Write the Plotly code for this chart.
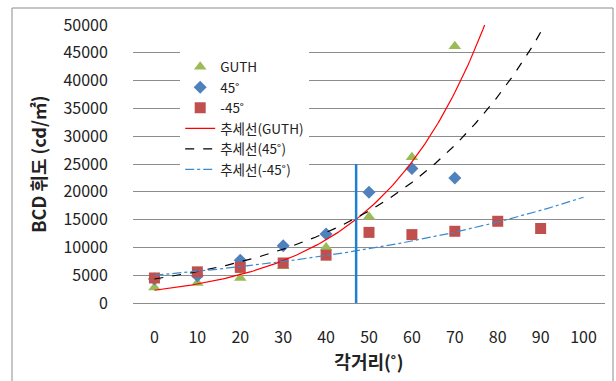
import numpy as np
import plotly.graph_objects as go

# ---- data ----
x_guth = [0, 10, 20, 30, 40, 50, 60, 70]
y_guth = [2800, 3600, 4500, 6600, 10000, 15500, 26200, 46200]

x_p45 = [0, 10, 20, 30, 40, 50, 60, 70]
y_p45 = [4300, 4900, 7700, 10300, 12400, 19900, 24200, 22500]

x_m45 = [0, 10, 20, 30, 40, 50, 60, 70, 80, 90]
y_m45 = [4500, 5600, 6400, 7200, 8600, 12700, 12300, 12900, 14700, 13400]

x_ticks = [0, 10, 20, 30, 40, 50, 60, 70, 80, 90, 100]
y_ticks = [0, 5000, 10000, 15000, 20000, 25000, 30000, 35000, 40000, 45000, 50000]

marker_x = [47, 47]
marker_y = [0, 25000]

names = ["GUTH", "45˚", "-45˚", "추세선(GUTH)", "추세선(45˚)", "추세선(-45˚)"]

# exponential trendlines (Excel-style, fit on log values)
def expfit(xs, ys, x_end):
    b, a = np.polyfit(np.array(xs, float), np.log(np.array(ys, float)), 1)
    xx = np.linspace(0, x_end, 201)
    return xx, np.exp(a) * np.exp(b * xx)

FONT = "Malgun Gothic, Noto Sans CJK KR, sans-serif"

fig = go.Figure()
fig.add_trace(go.Scatter(x=x_guth, y=y_guth, mode="markers", name=names[0],
                         marker=dict(symbol="triangle-up", size=11, color="#9BBB59")))
fig.add_trace(go.Scatter(x=x_p45, y=y_p45, mode="markers", name=names[1],
                         marker=dict(symbol="diamond", size=10, color="#4F81BD")))
fig.add_trace(go.Scatter(x=x_m45, y=y_m45, mode="markers", name=names[2],
                         marker=dict(symbol="square", size=11, color="#C0504D")))

tx, ty = expfit(x_guth, y_guth, 100)
fig.add_trace(go.Scatter(x=tx, y=ty, mode="lines", name=names[3],
                         line=dict(color="#FF0000", width=1.2)))
tx, ty = expfit(x_p45, y_p45, 100)
fig.add_trace(go.Scatter(x=tx, y=ty, mode="lines", name=names[4],
                         line=dict(color="#000000", width=1.2, dash="dash")))
tx, ty = expfit(x_m45, y_m45, 100)
fig.add_trace(go.Scatter(x=tx, y=ty, mode="lines", name=names[5],
                         line=dict(color="#3A8AD0", width=1.2, dash="dashdot")))

fig.add_trace(go.Scatter(x=marker_x, y=marker_y, mode="lines", showlegend=False,
                         line=dict(color="#1F7FD0", width=2.5)))

fig.update_layout(
    width=616, height=381,
    margin=dict(l=133, r=11, t=25, b=78),
    paper_bgcolor="white", plot_bgcolor="white",
    font=dict(family=FONT, size=16, color="#222"),
    legend=dict(x=0.10, y=0.905, xanchor="left", yanchor="top",
                bgcolor="white", font=dict(size=13.5), tracegroupgap=0,
                itemwidth=30),
    xaxis=dict(range=[-5, 105], tickvals=x_ticks, ticktext=[str(v) for v in x_ticks],
               showgrid=False, zeroline=False,
               showline=False, ticks="outside", ticklen=20, tickcolor="rgba(0,0,0,0)",
               title=dict(text="<b>각거리(˚)</b>", font=dict(size=18), standoff=6),
               fixedrange=True),
    yaxis=dict(range=[0, 50000], tickvals=y_ticks, ticktext=[str(v) for v in y_ticks],
               showgrid=True, gridcolor="#8C8C8C",
               gridwidth=1, zeroline=True, zerolinecolor="#8C8C8C", zerolinewidth=1,
               showline=False, ticks="outside", ticklen=21, tickcolor="rgba(0,0,0,0)",
               title=dict(text="<b>BCD 휘도 (cd/㎡)</b>", font=dict(size=18), standoff=12),
               fixedrange=True),
    shapes=[dict(type="rect", xref="paper", yref="paper",
                 x0=(12 - 133) / 472, x1=(613 - 133) / 472,
                 y0=(303 - 390) / 278, y1=(303 - 8) / 278,
                 line=dict(color="#8C8C8C", width=1), layer="below")],
)

fig.write_html("out.html")
